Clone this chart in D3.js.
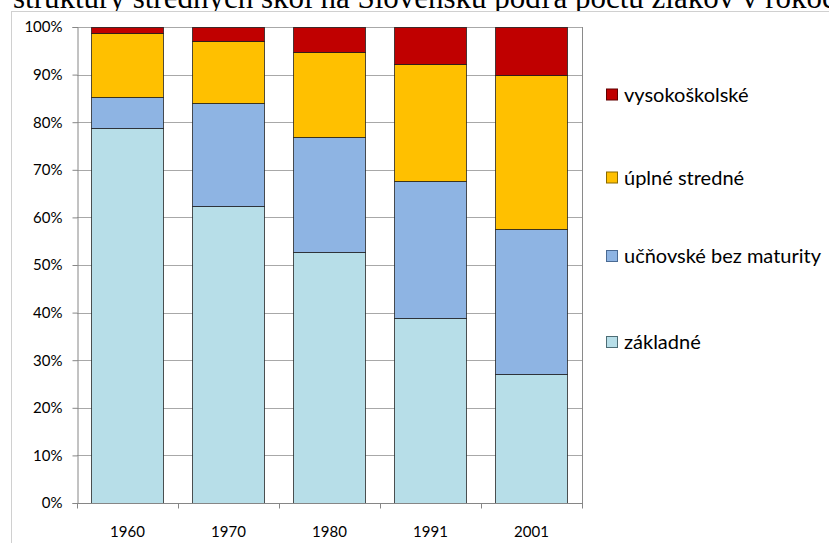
<!DOCTYPE html>
<html>
<head>
<meta charset="utf-8">
<script src="https://cdn.jsdelivr.net/npm/d3@7/dist/d3.min.js"></script>
<style>
  html, body { margin: 0; padding: 0; background: #fff; }
  svg { display: block; }
</style>
</head>
<body>
<svg id="chart" width="829" height="543"></svg>
<script>
// Education structure by census year (shares in %)
const years = ["1960", "1970", "1980", "1991", "2001"];
const zakladne   = [78.7, 62.5, 52.7, 38.9, 27.1];
const ucnovske   = [6.5, 21.5, 24.2, 28.7, 30.4];
const uplne      = [13.5, 13.0, 17.8, 24.6, 32.4];
const vysoko     = [1.3, 3.0, 5.3, 7.8, 10.1];
const seriesNames = ["základné", "učňovské bez maturity", "úplné stredné", "vysokoškolské"];
const yTicks = [0, 10, 20, 30, 40, 50, 60, 70, 80, 90, 100];
const titleText = "štruktúry stredných škôl na Slovensku podľa počtu žiakov v rokoch";

const colors = ["#B7DEE8", "#8EB4E3", "#FFC000", "#C00000"];
const legendStroke = ["#4d6d75", "#4a6a93", "#8a6a00", "#600000"];

const svg = d3.select("#chart");
const W = 829, H = 543;
const plot = { left: 77, right: 582, top: 27, bottom: 503 };

// Title (runs past the top edge of the page)
svg.append("text")
  .attr("x", 13).attr("y", 8)
  .attr("font-family", "Liberation Serif, Times New Roman, serif")
  .attr("font-size", 31)
  .attr("fill", "#000")
  .text(titleText);

// Chart area frame
svg.append("rect")
  .attr("x", 11.5).attr("y", 11.5)
  .attr("width", W + 20).attr("height", H + 20)
  .attr("fill", "#fff")
  .attr("stroke", "#d0d0d0").attr("stroke-width", 1);

const x = d3.scaleBand()
  .domain(years)
  .range([plot.left, plot.right])
  .paddingInner(0.4 / 1.4)
  .paddingOuter(0.2 / 1.4);

const y = d3.scaleLinear().domain([0, 100]).range([plot.bottom, plot.top]);

// Horizontal gridlines
svg.append("g")
  .selectAll("line")
  .data(yTicks.filter(t => t > 0))
  .join("line")
  .attr("x1", plot.left).attr("x2", plot.right)
  .attr("y1", d => Math.round(y(d)) + 0.5).attr("y2", d => Math.round(y(d)) + 0.5)
  .attr("stroke", "#a8a8a8").attr("stroke-width", 1);

// Plot area right border
svg.append("line")
  .attr("x1", plot.right + 0.5).attr("x2", plot.right + 0.5)
  .attr("y1", plot.top).attr("y2", plot.bottom)
  .attr("stroke", "#8a8a8a");

// Stacked bars
const table = years.map((yr, i) => ({
  year: yr,
  "základné": zakladne[i],
  "učňovské bez maturity": ucnovske[i],
  "úplné stredné": uplne[i],
  "vysokoškolské": vysoko[i]
}));
const stacked = d3.stack().keys(seriesNames)(table);

svg.append("g")
  .selectAll("g")
  .data(stacked)
  .join("g")
  .attr("fill", (d, i) => colors[i])
  .selectAll("rect")
  .data(d => d)
  .join("rect")
  .attr("x", d => Math.round(x(d.data.year)) + 0.5)
  .attr("width", Math.round(x.bandwidth()))
  .attr("y", d => Math.round(y(Math.min(d[1], 100))) + 0.5)
  .attr("height", d => Math.round(y(d[0])) - Math.round(y(Math.min(d[1], 100))))
  .attr("stroke", "#1a1a1a").attr("stroke-opacity", 0.75).attr("stroke-width", 1);

// Y axis
const yAxis = d3.axisLeft(y)
  .tickValues(yTicks)
  .tickSize(5)
  .tickPadding(10)
  .tickFormat(d => d + "%");
const gy = svg.append("g")
  .attr("transform", `translate(${plot.left + 0.5},0)`)
  .call(yAxis);
gy.select(".domain").attr("stroke", "#868686");
gy.selectAll(".tick line").attr("stroke", "#868686");
gy.selectAll(".tick text")
  .attr("font-family", "Lato, 'Open Sans', sans-serif")
  .attr("font-size", 15)
  .attr("fill", "#000");

// X axis: ticks at category boundaries
const gx = svg.append("g")
  .attr("transform", `translate(0,${plot.bottom + 0.5})`);
gx.append("line")
  .attr("x1", plot.left).attr("x2", plot.right + 1)
  .attr("stroke", "#868686");
gx.selectAll("line.cat")
  .data(d3.range(years.length + 1))
  .join("line")
  .attr("class", "cat")
  .attr("x1", i => Math.round(plot.left + i * x.step()) + 0.5)
  .attr("x2", i => Math.round(plot.left + i * x.step()) + 0.5)
  .attr("y1", 0).attr("y2", 5)
  .attr("stroke", "#868686");
gx.selectAll("text")
  .data(years)
  .join("text")
  .attr("x", d => x(d) + x.bandwidth() / 2)
  .attr("y", 33)
  .attr("text-anchor", "middle")
  .attr("font-family", "Lato, 'Open Sans', sans-serif")
  .attr("font-size", 15)
  .attr("fill", "#000")
  .text(d => d);

// Legend (top-down: highest series first)
const legendY = [94.5, 177.5, 256, 342];
const legendOrder = [3, 2, 1, 0];
const lg = svg.append("g");
legendOrder.forEach((si, k) => {
  lg.append("rect")
    .attr("x", 606.5).attr("y", legendY[k] - 5.5)
    .attr("width", 11).attr("height", 11)
    .attr("fill", colors[si])
    .attr("stroke", legendStroke[si]);
  lg.append("text")
    .attr("x", 624).attr("y", legendY[k])
    .attr("dy", "0.35em")
    .attr("font-family", "Lato, 'Open Sans', sans-serif")
    .attr("font-size", 20)
    .attr("fill", "#000")
    .text(seriesNames[si]);
});
</script>
</body>
</html>
